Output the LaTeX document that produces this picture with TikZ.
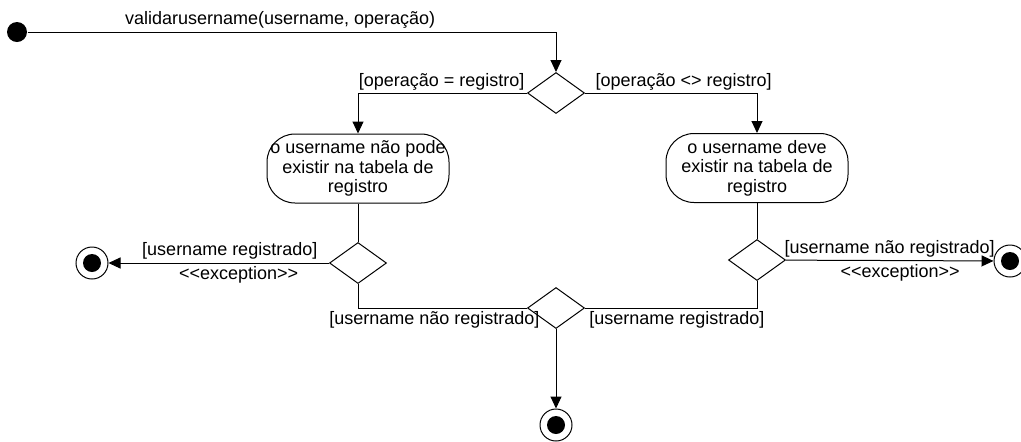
\documentclass[tikz,border=0pt]{standalone}
\usepackage{fontspec}
\newfontfamily\umlfont{Liberation Sans}
\usepackage{tikz}
\usetikzlibrary{calc,positioning,arrows.meta,shapes}

\begin{document}
\begin{tikzpicture}[x=0.5pt, y=-0.5pt, align=center, line width=0.5pt,
    font=\umlfont\fontsize{9}{9.75}\selectfont,
    >={Triangle[length=6pt,width=5.5pt]},
    every node/.append style={inner sep=1.5pt},
    action/.style={draw, rounded corners=14pt, minimum width=91pt, minimum height=34.5pt, inner sep=0pt},
    decision/.style={draw, diamond, minimum width=28.5pt, minimum height=20.5pt, inner sep=0pt},
    initial/.style={circle, fill, minimum size=10pt, inner sep=0pt},
    final/.style={draw, circle, minimum size=16pt, inner sep=0pt,
        path picture={\fill (path picture bounding box.center) circle (4.5pt);}}]
    \useasboundingbox (0,0) rectangle (1021,441);

    \node [initial] (start) at (17,32) {};
    \node [decision] (op_choice) at (556,93) {};
    \node [action] (not_exists) at (358,168.5) {o username não pode\\existir na tabela de\\registro};
    \node [action] (must_exist) at (757,168) {o username deve\\existir na tabela de\\registro};
    \node [decision] (check_left) at (358,263) {};
    \node [decision] (check_right) at (757,260) {};
    \node [decision] (merge) at (556,308) {};
    \node [final] (end_left) at (92,263) {};
    \node [final] (end_right) at (1010,261) {};
    \node [final] (end_bottom) at (556,425) {};

    \draw[->] (start) -| node[pos=0.239, above] {validarusername(username, operação)} (op_choice);
    \draw[->] (op_choice.west) -| node[pos=0, anchor=south east, inner sep=1pt] {[operação = registro]} (not_exists);
    \draw[->] (op_choice.east) -| node[pos=0, anchor=south west, inner sep=1pt, xshift=4pt] {[operação <> registro]} (must_exist);

    \draw (not_exists) -- (check_left);
    \draw (must_exist) -- (check_right);

    \draw[->] (check_left) -- node[pos=0.45, above] {[username registrado]} node[pos=0.41, below] {<<exception>>} (end_left);
    \draw[->] (check_right) -- node[pos=0.5, above] {[username não registrado]} node[pos=0.55, below] {<<exception>>} (end_right);

    \draw (check_left) |- node[pos=0.726, below] {[username não registrado]} (merge);
    \draw (check_right) |- node[pos=0.733, below] {[username registrado]} (merge);
    \draw[->] (merge) -- (end_bottom);
\end{tikzpicture}
\end{document}
